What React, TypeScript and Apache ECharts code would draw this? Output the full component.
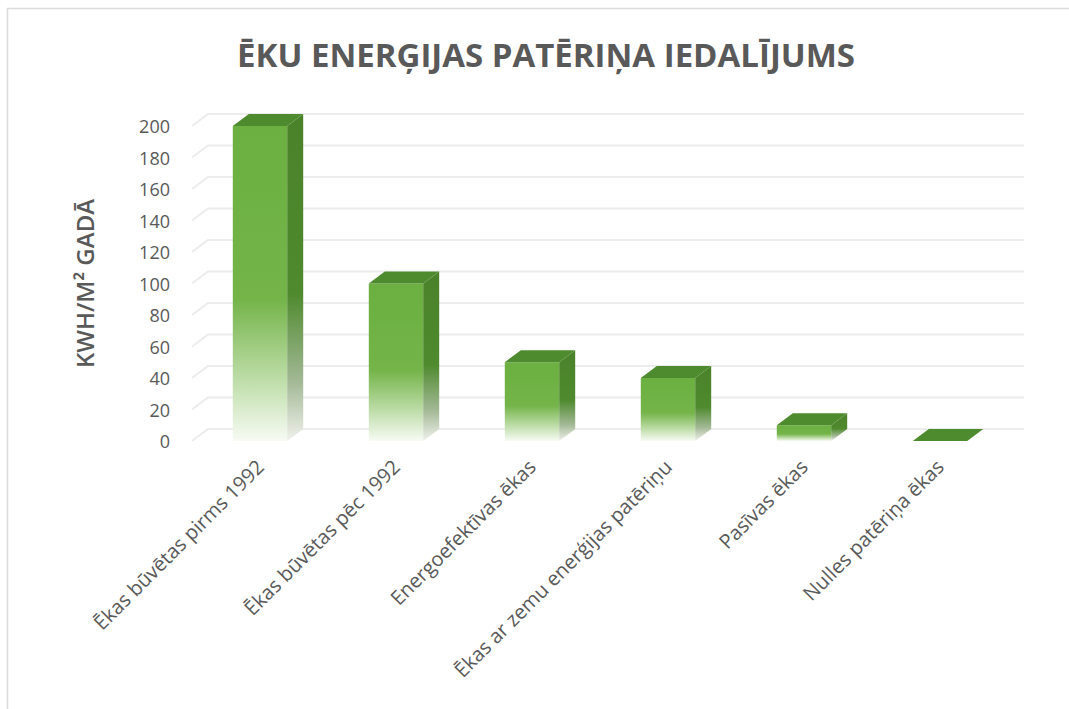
import React, { useEffect, useRef } from "react";
import * as echarts from "echarts";

const categories = [
  "Ēkas būvētas pirms 1992",
  "Ēkas būvētas pēc 1992",
  "Energoefektīvas ēkas",
  "Ēkas ar zemu enerģijas patēriņu",
  "Pasīvas ēkas",
  "Nulles patēriņa ēkas",
];
const values = [200, 100, 50, 40, 10, 0];
const yTicks = [0, 20, 40, 60, 80, 100, 120, 140, 160, 180, 200];
const titleText = "ĒKU ENERĢIJAS PATĒRIŅA IEDALĪJUMS";
const yAxisName = "KWH/M² GADĀ";

const DX = 16;
const DY = -12;
const TEXT = "#595959";
const FONT = "'Open Sans', 'Liberation Sans', sans-serif";

export default function App() {
  const ref = useRef<HTMLDivElement>(null);
  useEffect(() => {
    if (!ref.current) return;
    const chart = echarts.init(ref.current, null, { renderer: "svg" });
    const barData = values.map((v, i) => [i, v]);
    const gridData = yTicks.map((v) => [0, v]);
    chart.setOption({
      animation: false,
      backgroundColor: "#ffffff",
      title: {
        text: titleText,
        left: 232,
        top: 33,
        textStyle: { fontFamily: FONT, fontSize: 33, fontWeight: "bold", color: TEXT },
      },
      graphic: [
        { type: "line", shape: { x1: 7, y1: 8.5, x2: 1069, y2: 8.5 }, style: { stroke: "#dcdcdc", lineWidth: 1.5 } },
        { type: "line", shape: { x1: 7.5, y1: 8, x2: 7.5, y2: 709 }, style: { stroke: "#dcdcdc", lineWidth: 1.5 } },
      ],
      grid: { left: 192, right: 61, top: 126, bottom: 268, containLabel: false },
      xAxis: {
        type: "category",
        data: categories,
        axisLine: { show: false },
        axisTick: { show: false },
        axisLabel: {
          interval: 0,
          rotate: 45,
          margin: 22,
          fontFamily: FONT,
          fontSize: 20,
          color: TEXT,
        },
      },
      yAxis: {
        type: "value",
        min: 0,
        max: 200,
        interval: 20,
        name: yAxisName,
        nameLocation: "middle",
        nameRotate: 90,
        nameGap: 96,
        nameTextStyle: { fontFamily: FONT, fontSize: 24, fontWeight: 600, color: TEXT },
        axisLine: { show: false },
        axisTick: { show: false },
        splitLine: { show: false },
        axisLabel: {
          margin: 22,
          fontFamily: FONT,
          fontSize: 18,
          color: TEXT,
        },
      },
      series: [
        {
          type: "custom",
          z: 1,
          silent: true,
          data: gridData,
          encode: { x: 0, y: 1 },
          renderItem: (params: any, api: any) => {
            const p = api.coord([0, api.value(1)]);
            const cs = params.coordSys;
            const y = p[1];
            return {
              type: "polyline",
              shape: {
                points: [
                  [cs.x, y],
                  [cs.x + DX, y + DY],
                  [cs.x + cs.width + DX, y + DY],
                ],
              },
              style: { stroke: "#ececec", lineWidth: 2, fill: null },
            };
          },
        },
        {
          type: "custom",
          z: 5,
          data: barData,
          encode: { x: 0, y: 1 },
          renderItem: (params: any, api: any) => {
            const idx = api.value(0);
            const v = api.value(1);
            const top = api.coord([idx, v]);
            const base = api.coord([idx, 0]);
            const bw = api.size([1, 0])[0] * 0.4;
            const x0 = top[0] - bw / 2;
            const x1 = top[0] + bw / 2;
            const h = base[1] - top[1];
            const children: any[] = [];
            if (h > 0.5) {
              children.push({
                type: "rect",
                shape: { x: x0, y: top[1], width: bw, height: h },
                style: {
                  fill: {
                    type: "linear",
                    x: 0, y: 0, x2: 0, y2: 1,
                    colorStops: [
                      { offset: 0, color: "#6bb040" },
                      { offset: 0.55, color: "#74b449" },
                      { offset: 0.8, color: "#bcdca6" },
                      { offset: 1, color: "#f7fbf4" },
                    ],
                  },
                },
              });
              children.push({
                type: "polygon",
                shape: {
                  points: [
                    [x1, top[1]],
                    [x1 + DX, top[1] + DY],
                    [x1 + DX, base[1] + DY],
                    [x1, base[1]],
                  ],
                },
                style: {
                  fill: {
                    type: "linear",
                    x: 0, y: 0, x2: 0, y2: 1,
                    colorStops: [
                      { offset: 0, color: "#4a8229" },
                      { offset: 0.55, color: "#4f8a2e" },
                      { offset: 0.82, color: "#a3b996" },
                      { offset: 1, color: "#f0f1ec" },
                    ],
                  },
                },
              });
            }
            children.push({
              type: "polygon",
              shape: {
                points: [
                  [x0, top[1]],
                  [x0 + DX, top[1] + DY],
                  [x1 + DX, top[1] + DY],
                  [x1, top[1]],
                ],
              },
              style: { fill: "#4e8a2e" },
            });
            return { type: "group", children };
          },
        },
      ],
    });
    return () => chart.dispose();
  }, []);
  return (
    <div
      ref={ref}
      style={{ position: "fixed", left: 0, top: 0, width: 1069, height: 709 }}
    />
  );
}
